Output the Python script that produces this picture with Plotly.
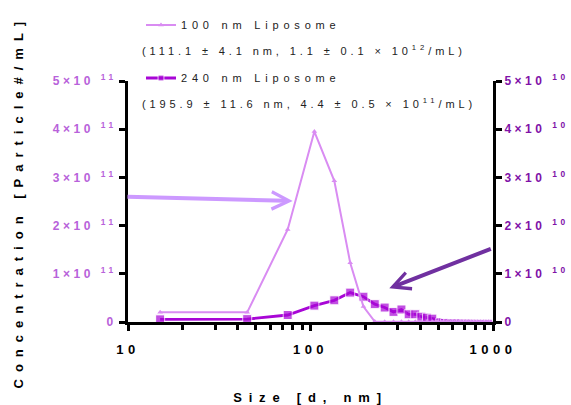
import plotly.graph_objects as go

# Size bins (d, nm)
sizes = [15, 45, 75, 105, 135, 165, 195, 225, 255, 285, 315, 345, 375, 405, 435, 465,
         495, 525, 555, 585, 615, 645, 675, 705, 735, 765, 795, 825, 855, 885, 915, 945, 975]

# Concentrations (particles/mL)
lipo100 = [0.20e11, 0.20e11, 1.92e11, 3.95e11, 2.93e11, 1.23e11, 0.32e11, 0.01e11,
           0.005e11, 0.005e11, 0.005e11, 0.005e11, 0.005e11, 0.005e11, 0.005e11, 0.005e11,
           0.005e11, 0.005e11, 0.005e11, 0.005e11, 0.005e11, 0.005e11, 0.005e11, 0.005e11,
           0.005e11, 0.005e11, 0.005e11, 0.005e11, 0.005e11, 0.005e11, 0.005e11, 0.005e11, 0.005e11]
lipo240 = [0.055e11, 0.06e11, 0.145e11, 0.34e11, 0.45e11, 0.61e11, 0.525e11, 0.37e11,
           0.30e11, 0.21e11, 0.26e11, 0.16e11, 0.16e11, 0.11e11, 0.09e11, 0.07e11,
           0.05e11, 0.04e11, 0.035e11, 0.03e11, 0.03e11, 0.03e11, 0.025e11, 0.025e11,
           0.025e11, 0.02e11, 0.02e11, 0.02e11, 0.02e11, 0.02e11, 0.02e11, 0.02e11, 0.02e11]

series_names = ["100 nm Liposome", "240 nm Liposome"]
series_notes = ["(111.1 ± 4.1 nm, 1.1 ± 0.1 × 10<sup>12</sup>/mL)",
                "(195.9 ± 11.6 nm, 4.4 ± 0.5 × 10<sup>11</sup>/mL)"]
x_title = "Size [d, nm]"
y_title = "Concentration [Particle#/mL]"

x_tickvals = [10, 100, 1000]
x_ticktext = ["10", "100", "1000"]
x_minor = [20, 30, 40, 50, 60, 70, 80, 90, 200, 300, 400, 500, 600, 700, 800, 900]
y1_tickvals = [0, 1e11, 2e11, 3e11, 4e11, 5e11]
y1_ticktext = ["0", "1×10 <sup>11</sup>", "2×10 <sup>11</sup>", "3×10 <sup>11</sup>",
               "4×10 <sup>11</sup>", "5×10 <sup>11</sup>"]
y2_tickvals = [0, 1e10, 2e10, 3e10, 4e10, 5e10]
y2_ticktext = ["0", "1×10 <sup>10</sup>", "2×10 <sup>10</sup>", "3×10 <sup>10</sup>",
               "4×10 <sup>10</sup>", "5×10 <sup>10</sup>"]

LIGHT = "#D98CF2"
DARK = "#A806D6"
LEFT_LBL = "#B862DA"
RIGHT_LBL = "#8012A8"
FONT = "Arial, Liberation Sans, sans-serif"


def spaced(text, px):
    return f'<span style="letter-spacing:{px}px">{text}</span>'


W, H = 571, 405
L, R, T, B = 128, 78, 81, 83
pw, ph = W - L - R, H - T - B

dark_sizes = [9] * 16 + [3] * (len(sizes) - 16)

fig = go.Figure()
fig.add_trace(go.Scatter(
    x=sizes, y=lipo240, mode="lines+markers", name=spaced(series_names[1], 4.8),
    line=dict(color=DARK, width=2.8),
    marker=dict(symbol="square", size=dark_sizes, color=DARK),
    legend="legend2", cliponaxis=False))
fig.add_trace(go.Scatter(
    x=sizes, y=lipo100, mode="lines+markers", name=spaced(series_names[0], 4.8),
    line=dict(color=LIGHT, width=2),
    marker=dict(symbol="triangle-up", size=5, color=LIGHT),
    legend="legend", cliponaxis=False))
fig.add_trace(go.Scatter(x=[], y=[], yaxis="y2", showlegend=False))

axis_common = dict(showline=True, linecolor="black", linewidth=3, ticks="outside",
                   ticklen=6, tickwidth=3, tickcolor="black", showgrid=False,
                   zeroline=False)

fig.update_layout(
    width=W, height=H,
    margin=dict(l=L, r=R, t=T, b=B, autoexpand=False),
    paper_bgcolor="white", plot_bgcolor="white",
    font=dict(family=FONT, color="black"),
    xaxis=dict(type="log", range=[1, 3], tickvals=x_tickvals,
               ticktext=[spaced(t, 4.5) for t in x_ticktext],
               tickfont=dict(size=13, weight="bold", color="black"),
               ticklabelstandoff=7,
               minor=dict(tickvals=x_minor, ticks="outside", ticklen=5, tickwidth=2.5,
                          tickcolor="black"),
               title=dict(text=spaced(x_title, 6.8),
                          font=dict(size=13, weight="bold"), standoff=38),
               **axis_common),
    yaxis=dict(range=[0, 5e11], tickvals=y1_tickvals,
               ticktext=[spaced(t, 3.5) for t in y1_ticktext],
               tickfont=dict(size=12, weight="bold", color=LEFT_LBL),
               **axis_common),
    yaxis2=dict(range=[0, 5e10], tickvals=y2_tickvals,
                ticktext=[spaced(t, 3.5) for t in y2_ticktext],
                overlaying="y", side="right", anchor="x",
                tickfont=dict(size=12, weight="bold", color=RIGHT_LBL),
                **axis_common),
    legend=dict(xref="container", yref="container", x=141 / W, y=1 - 25 / H,
                xanchor="left", yanchor="middle", bgcolor="rgba(0,0,0,0)",
                font=dict(size=11, color="#222")),
    legend2=dict(xref="container", yref="container", x=141 / W, y=1 - 78 / H,
                 xanchor="left", yanchor="middle", bgcolor="rgba(0,0,0,0)",
                 font=dict(size=11, color="#222")),
    showlegend=True,
)

# Y-axis title (rotated)
fig.add_annotation(text=spaced(y_title, 7), xref="paper", yref="paper",
                   x=(18 - L) / pw, y=0.5, xanchor="center", yanchor="middle",
                   textangle=-90, showarrow=False,
                   font=dict(size=13, weight="bold", color="black"))

# Detail lines below each legend entry
for note, py in zip(series_notes, [50, 103]):
    fig.add_annotation(text=spaced(note, 3.9), xref="paper", yref="paper",
                       x=(140 - L) / pw, y=(H - B - py) / ph,
                       xanchor="left", yanchor="middle", showarrow=False,
                       font=dict(size=11, color="#222"))

# Arrows
fig.add_annotation(xref="paper", yref="paper", x=(292.7 - L) / pw, y=(H - B - 201) / ph,
                   ax=-166.7, ay=-4.3, text="", showarrow=True, arrowhead=5,
                   arrowsize=0.85, arrowwidth=4, arrowcolor="#CC99FF")
fig.add_annotation(xref="paper", yref="paper", x=(389.3 - L) / pw, y=(H - B - 288.3) / ph,
                   ax=103, ay=-40, text="", showarrow=True, arrowhead=5,
                   arrowsize=0.85, arrowwidth=4, arrowcolor="#7030A0")

post = "document.body.style.margin='0';"

fig.write_html("out.html", post_script=post, config={"displayModeBar": False})
